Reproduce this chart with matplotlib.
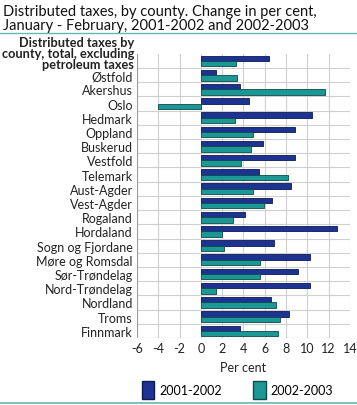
import numpy as np
import matplotlib
matplotlib.use('Agg')
from matplotlib import pyplot as plt
from matplotlib.patches import Patch
from matplotlib.lines import Line2D

plt.rcParams['font.family'] = ['Lato', 'DejaVu Sans']

counties = ['Distributed taxes by\ncounty, total, excluding\npetroleum taxes',
            'Østfold', 'Akershus', 'Oslo', 'Hedmark', 'Oppland', 'Buskerud',
            'Vestfold', 'Telemark', 'Aust-Agder', 'Vest-Agder', 'Rogaland',
            'Hordaland', 'Sogn og Fjordane', 'Møre og Romsdal', 'Sør-Trøndelag',
            'Nord-Trøndelag', 'Nordland', 'Troms', 'Finnmark']
v2001_2002 = [6.4, 1.4, 3.7, 4.5, 10.4, 8.8, 5.8, 8.8, 5.5, 8.5, 6.7, 4.1,
              12.8, 6.9, 10.3, 9.1, 10.3, 6.6, 8.3, 3.7]
v2002_2003 = [3.3, 3.4, 11.7, -4.0, 3.2, 4.9, 4.7, 3.8, 8.2, 4.9, 5.9, 3.0,
              2.0, 2.2, 5.6, 5.6, 1.4, 7.1, 7.4, 7.2]
ticks = [-6, -4, -2, 0, 2, 4, 6, 8, 10, 12, 14]

blue = '#1c3391'
teal = '#1b9896'
txt = '#222222'

fig = plt.figure(figsize=(3.57, 4.06), dpi=100)
ax = fig.add_axes([0.384, 0.165, 0.596, 0.700])

y = np.arange(len(counties))
h = 0.38
ax.barh(y - h / 2, v2001_2002, height=h, color=blue, edgecolor='#0d1a50', linewidth=0.6, zorder=3)
ax.barh(y + h / 2, v2002_2003, height=h, color=teal, edgecolor='#0d4a48', linewidth=0.6, zorder=3)

ax.set_xlim(-6, 14)
ax.set_ylim(len(counties) - 0.5, -0.5)
ax.set_xticks(ticks)
ax.set_xticklabels([str(t) for t in ticks], fontsize=9, color=txt)
ax.set_yticks(y)
ax.set_yticklabels([''] + counties[1:], fontsize=9, color=txt)
ax.tick_params(length=0, pad=3)
ax.set_xlabel('Per cent', fontsize=9, color=txt, labelpad=5)

# first label: bold, three lines, sitting a little above its bars
ax.annotate(counties[0], xy=(0, 0), xycoords=('axes fraction', 'data'),
            xytext=(-3, 8), textcoords='offset pixels', ha='right', va='center',
            fontsize=9.2, fontweight='bold', color=txt, linespacing=0.92)

for t in ticks:
    ax.axvline(t, color='#d0d0d0', linewidth=0.8, zorder=1)
for b in np.arange(0.5, len(counties) - 0.5, 1):
    ax.axhline(b, color='#d0d0d0', linewidth=0.8, zorder=1)
for s in ax.spines.values():
    s.set_visible(False)
ax.axvline(-6, color='#999999', linewidth=0.8, zorder=2)
ax.axhline(len(counties) - 0.5, color='#999999', linewidth=0.8, zorder=2)

fig.text(0.008, 0.988, 'Distributed taxes, by county. Change in per cent,\nJanuary - February, 2001-2002 and 2002-2003',
         fontsize=10.5, va='top', ha='left', color='#111111', linespacing=1.0)
fig.add_artist(Line2D([0, 1], [0.916, 0.916], color='#5fb8b6', linewidth=1.0))
fig.add_artist(Line2D([0, 1], [0.004, 0.004], color='#5fb8b6', linewidth=1.2))

handles = [Patch(facecolor=blue, edgecolor='#0d1a50', label='2001-2002'),
           Patch(facecolor=teal, edgecolor='#0d4a48', label='2002-2003')]
fig.legend(handles=handles, loc='lower center', bbox_to_anchor=(0.665, -0.012), ncol=2,
           frameon=False, fontsize=9, handlelength=1.0, handleheight=1.8,
           columnspacing=2.5, handletextpad=0.4)

plt.savefig('out.png', dpi=100)
